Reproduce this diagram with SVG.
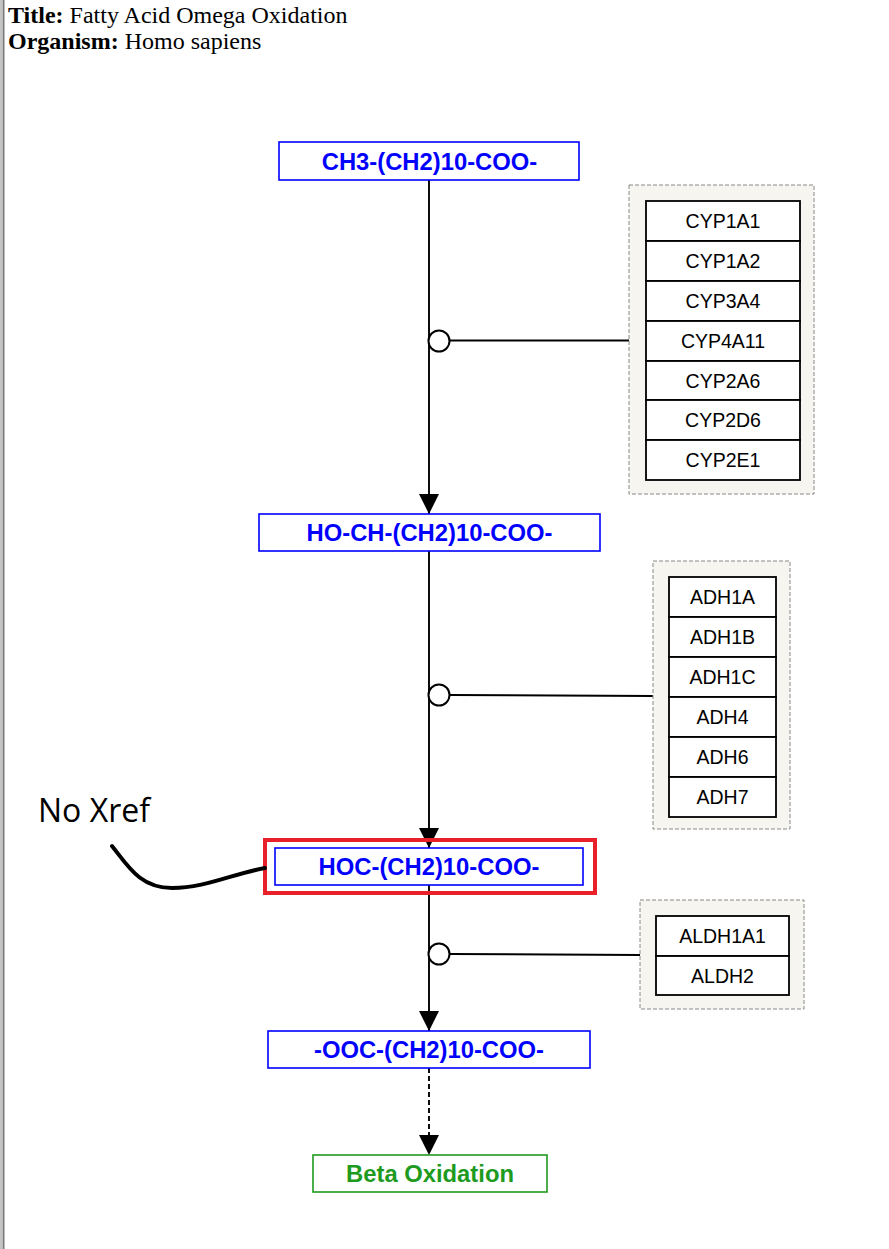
<svg xmlns="http://www.w3.org/2000/svg" width="889" height="1249" viewBox="0 0 889 1249">
<style>
.title{font-family:"Liberation Serif",serif;font-size:24px;fill:#000}
.met{fill:#fff;stroke:#0000ff;stroke-width:1.6}
.mt{font-family:"Liberation Sans",Arial,sans-serif;font-weight:bold;font-size:23.8px;fill:#0000ff;text-anchor:middle}
.grp{fill:#f6f5ef;stroke:#888;stroke-width:1;stroke-dasharray:4,2}
.gene{fill:#fff;stroke:#000;stroke-width:1.8}
.gt{font-family:"Liberation Sans",Arial,sans-serif;font-size:19.5px;fill:#000;text-anchor:middle}
.ln{stroke:#000;stroke-width:1.9;fill:none}
.cat{fill:#fff;stroke:#000;stroke-width:2}
</style>
<defs>
<marker id="arr" markerUnits="userSpaceOnUse" markerWidth="20" markerHeight="20" refX="20" refY="10" orient="auto" viewBox="0 0 20 20">
<path d="M0,0 L20,10 L0,20 z" fill="#000"/>
</marker>
</defs>
<rect x="0" y="0" width="889" height="1249" fill="#fff"/>
<rect x="0" y="0" width="2" height="1249" fill="#c4c4c4"/>
<rect x="2.5" y="0" width="2" height="1249" fill="#7a7a7a"/>
<text class="title" x="8" y="23"><tspan font-weight="bold">Title:</tspan> Fatty Acid Omega Oxidation</text>
<text class="title" x="8" y="49"><tspan font-weight="bold">Organism:</tspan> Homo sapiens</text>

<g id="connectors">
<line class="ln" x1="429" y1="180" x2="429" y2="514" marker-end="url(#arr)"/>
<line class="ln" x1="429" y1="551" x2="429" y2="848" marker-end="url(#arr)"/>
<line class="ln" x1="429" y1="885" x2="429" y2="1031" marker-end="url(#arr)"/>
<line class="ln" x1="429" y1="1068" x2="429" y2="1155" stroke-dasharray="5,3" marker-end="url(#arr)"/>
<line class="ln" x1="450" y1="340.5" x2="629" y2="340.5"/>
<line class="ln" x1="450" y1="695" x2="653" y2="696"/>
<line class="ln" x1="450" y1="954" x2="640" y2="955"/>
<circle class="cat" cx="439" cy="341" r="10.5"/>
<circle class="cat" cx="439" cy="695" r="10.5"/>
<circle class="cat" cx="439" cy="954" r="10.5"/>
</g>

<g id="node-ch3">
<rect class="met" x="279" y="142" width="300" height="38"/>
<text class="mt" x="429.5" y="169.5">CH3-(CH2)10-COO-</text>
</g>
<g id="node-hoch">
<rect class="met" x="259" y="514" width="341" height="37"/>
<text class="mt" x="429.5" y="541">HO-CH-(CH2)10-COO-</text>
</g>
<g id="node-hoc">
<rect x="265" y="840" width="330" height="53" fill="none" stroke="#e8202a" stroke-width="4"/>
<rect class="met" x="275" y="848" width="308" height="37"/>
<text class="mt" x="429" y="875">HOC-(CH2)10-COO-</text>
</g>
<g id="node-ooc">
<rect class="met" x="268" y="1031" width="322" height="37"/>
<text class="mt" x="429" y="1058">-OOC-(CH2)10-COO-</text>
</g>
<g id="node-beta">
<rect x="313" y="1155" width="234" height="37" fill="#fff" stroke="#1e9a1e" stroke-width="1.6"/>
<text class="mt" x="430" y="1182" style="fill:#1e9a1e">Beta Oxidation</text>
</g>

<g id="group-cyp">
<rect class="grp" x="629" y="185" width="185" height="309"/>
<rect class="gene" x="646" y="201" width="154" height="40"/><text class="gt" x="723" y="228">CYP1A1</text>
<rect class="gene" x="646" y="241" width="154" height="40"/><text class="gt" x="723" y="268">CYP1A2</text>
<rect class="gene" x="646" y="281" width="154" height="40"/><text class="gt" x="723" y="308">CYP3A4</text>
<rect class="gene" x="646" y="321" width="154" height="40"/><text class="gt" x="723" y="348">CYP4A11</text>
<rect class="gene" x="646" y="361" width="154" height="39"/><text class="gt" x="723" y="387.5">CYP2A6</text>
<rect class="gene" x="646" y="400" width="154" height="40"/><text class="gt" x="723" y="427">CYP2D6</text>
<rect class="gene" x="646" y="440" width="154" height="40"/><text class="gt" x="723" y="467">CYP2E1</text>
</g>

<g id="group-adh">
<rect class="grp" x="653" y="561" width="137" height="268"/>
<rect class="gene" x="669" y="577" width="107" height="40"/><text class="gt" x="722.5" y="604">ADH1A</text>
<rect class="gene" x="669" y="617" width="107" height="40"/><text class="gt" x="722.5" y="644">ADH1B</text>
<rect class="gene" x="669" y="657" width="107" height="40"/><text class="gt" x="722.5" y="684">ADH1C</text>
<rect class="gene" x="669" y="697" width="107" height="40"/><text class="gt" x="722.5" y="724">ADH4</text>
<rect class="gene" x="669" y="737" width="107" height="40"/><text class="gt" x="722.5" y="764">ADH6</text>
<rect class="gene" x="669" y="777" width="107" height="40"/><text class="gt" x="722.5" y="804">ADH7</text>
</g>

<g id="group-aldh">
<rect class="grp" x="640" y="900" width="164" height="109"/>
<rect class="gene" x="656" y="916" width="133" height="40"/><text class="gt" x="722.5" y="943">ALDH1A1</text>
<rect class="gene" x="656" y="956" width="133" height="39"/><text class="gt" x="722.5" y="982.5">ALDH2</text>
</g>

<g id="annotation">
<text x="38" y="822" font-family="'Open Sans',sans-serif" font-size="32" fill="#000">No Xref</text>
<path d="M112,846 C128,866 140,888 172,888 C205,888 232,874 265,868" fill="none" stroke="#000" stroke-width="4" stroke-linecap="round"/>
</g>
</svg>
